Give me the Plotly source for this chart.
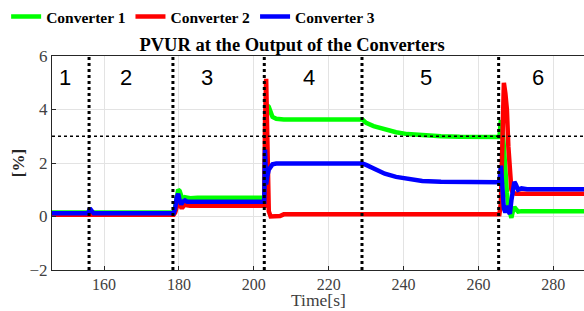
import plotly.graph_objects as go

# ---- data ----
t = [146, 155.8, 156.2, 156.6, 157.2, 178.6, 179.0, 179.4, 179.8, 180.2, 180.6, 181.0,
     181.6, 182.2, 183.0, 185, 202.8, 203.0, 203.3, 203.6, 204.0, 204.5, 205.0, 206.0,
     207.0, 208.0, 229.0, 230.0, 232.0, 235.0, 238.0, 241.0, 245.0, 250.0, 255, 265.6,
     266.0, 266.4, 266.8, 267.2, 267.6, 268.0, 268.4, 268.8, 269.2, 269.6, 270.0, 270.6,
     271.5, 273, 288.5]

conv1 = [0.15, 0.15, 0.16, 0.15, 0.15, 0.15, 0.35, 0.85, 1.0, 0.95, 0.7, 0.6,
         0.72, 0.7, 0.68, 0.7, 0.7, 2.0, 3.9, 4.15, 4.1, 3.85, 3.72, 3.65,
         3.63, 3.63, 3.63, 3.5, 3.38, 3.25, 3.15, 3.08, 3.03, 3.0, 2.98, 2.97,
         3.6, 3.3, 2.6, 1.6, 0.9, 0.4, 0.05, -0.05, 0.2, 0.35, 0.28, 0.18,
         0.2, 0.2, 0.2]

conv2 = [0.07, 0.07, 0.07, 0.07, 0.07, 0.07, 0.15, 0.4, 0.55, 0.5, 0.35, 0.35,
         0.45, 0.42, 0.4, 0.4, 0.4, 3.5, 5.15, 3.0, 0.2, 0.0, 0.0, 0.0,
         0.02, 0.08, 0.08, 0.08, 0.08, 0.08, 0.08, 0.08, 0.08, 0.08, 0.08, 0.08,
         0.5, 3.5, 5.0, 4.6, 4.0, 2.6, 1.6, 1.0, 0.88, 0.85, 0.85, 0.85,
         0.85, 0.85, 0.85]

conv3 = [0.12, 0.12, 0.3, 0.25, 0.12, 0.12, 0.3, 0.7, 0.85, 0.6, 0.45, 0.55,
         0.6, 0.55, 0.55, 0.55, 0.55, 2.5, 1.2, 1.5, 1.75, 1.85, 1.95, 1.98,
         1.98, 1.98, 1.98, 1.93, 1.78, 1.6, 1.48, 1.4, 1.33, 1.3, 1.28, 1.28,
         1.9, 1.2, 0.3, 0.15, 0.4, 0.2, 0.1, 0.6, 1.1, 1.3, 1.2, 1.0,
         1.05, 1.02, 1.02]

series_names = ["Converter 1", "Converter 2", "Converter 3"]
series_colors = ["#00ff00", "#ff0000", "#0000ff"]

event_times = [156, 178.4, 202.8, 228.9, 265.4]
limit_value = 3
region_labels = ["1", "2", "3", "4", "5", "6"]
region_label_x = [149.6, 165.9, 187.6, 214.7, 245.9, 276]
region_label_y = 5.2

x_ticks = [160, 180, 200, 220, 240, 260, 280]
y_ticks = [-2, 0, 2, 4, 6]

# ---- figure ----
fig = go.Figure()
for name, color, ys in zip(series_names, series_colors, [conv1, conv2, conv3]):
    fig.add_trace(go.Scatter(x=t, y=ys, mode="lines", name=name,
                             line=dict(color=color, width=4.5)))

for xe in event_times:
    fig.add_shape(type="line", xref="x", yref="paper", x0=xe, x1=xe, y0=0, y1=1,
                  line=dict(color="black", width=3, dash="dot"), layer="above")
fig.add_shape(type="line", xref="paper", yref="y", x0=0, x1=1, y0=limit_value, y1=limit_value,
              line=dict(color="black", width=1.5, dash="dot"), layer="above")

for lab, xl in zip(region_labels, region_label_x):
    fig.add_annotation(x=xl, y=region_label_y, text=lab, showarrow=False,
                       font=dict(family="Liberation Sans", size=22, color="black"))

serif = "Liberation Serif, Times New Roman, serif"

# x-axis title placed just below the tick labels
fig.add_annotation(x=0.5, xref="paper", y=-0.1425, yref="paper", yanchor="middle",
                   text="Time[s]", showarrow=False, borderpad=0,
                   font=dict(family=serif, size=17.5, color="#404040"))

fig.update_layout(
    width=584, height=311,
    margin=dict(l=52, r=0, t=56, b=41, autoexpand=False),
    paper_bgcolor="white", plot_bgcolor="white",
    font=dict(family=serif, size=17, color="#404040"),
    title=dict(text="PVUR at the Output of the Converters", x=0.5, xref="container",
               xanchor="center", y=0.858, yref="container", yanchor="middle",
               font=dict(family=serif, size=18.5, color="black", weight="bold")),
    legend=dict(orientation="h", xref="container", yref="container", x=0.0105, y=1.0,
                xanchor="left", yanchor="top", font=dict(family=serif, size=15.5, color="black", weight="bold"),
                itemwidth=30, tracegroupgap=0, bgcolor="rgba(0,0,0,0)"),
    xaxis=dict(range=[146.1, 288.2], tickvals=x_ticks, showgrid=True, gridcolor="#e3e3e3",
               showline=True, linecolor="#262626", linewidth=1, mirror=True, automargin=False,
               ticks="inside", ticklen=4, tickcolor="#262626", zeroline=False,
               tickfont=dict(family=serif, size=16, color="#404040")),
    yaxis=dict(range=[-2, 6], tickvals=y_ticks, showgrid=True, gridcolor="#e3e3e3",
               showline=True, linecolor="#262626", linewidth=1, mirror=False, automargin=False,
               ticks="inside", ticklen=4, tickcolor="#262626", zeroline=False,
               tickfont=dict(family=serif, size=17, color="#404040"),
               title=dict(text="[%]", standoff=0, font=dict(family=serif, size=17, color="#262626", weight="bold"))),
    showlegend=True,
)

fig.write_html("out.html", config={"displayModeBar": False})
with open("out.html", "r", encoding="utf-8") as f:
    html = f.read()
html = html.replace("<head>", "<head><style>html,body{margin:0;padding:0;overflow:hidden}</style>", 1)
with open("out.html", "w", encoding="utf-8") as f:
    f.write(html)
